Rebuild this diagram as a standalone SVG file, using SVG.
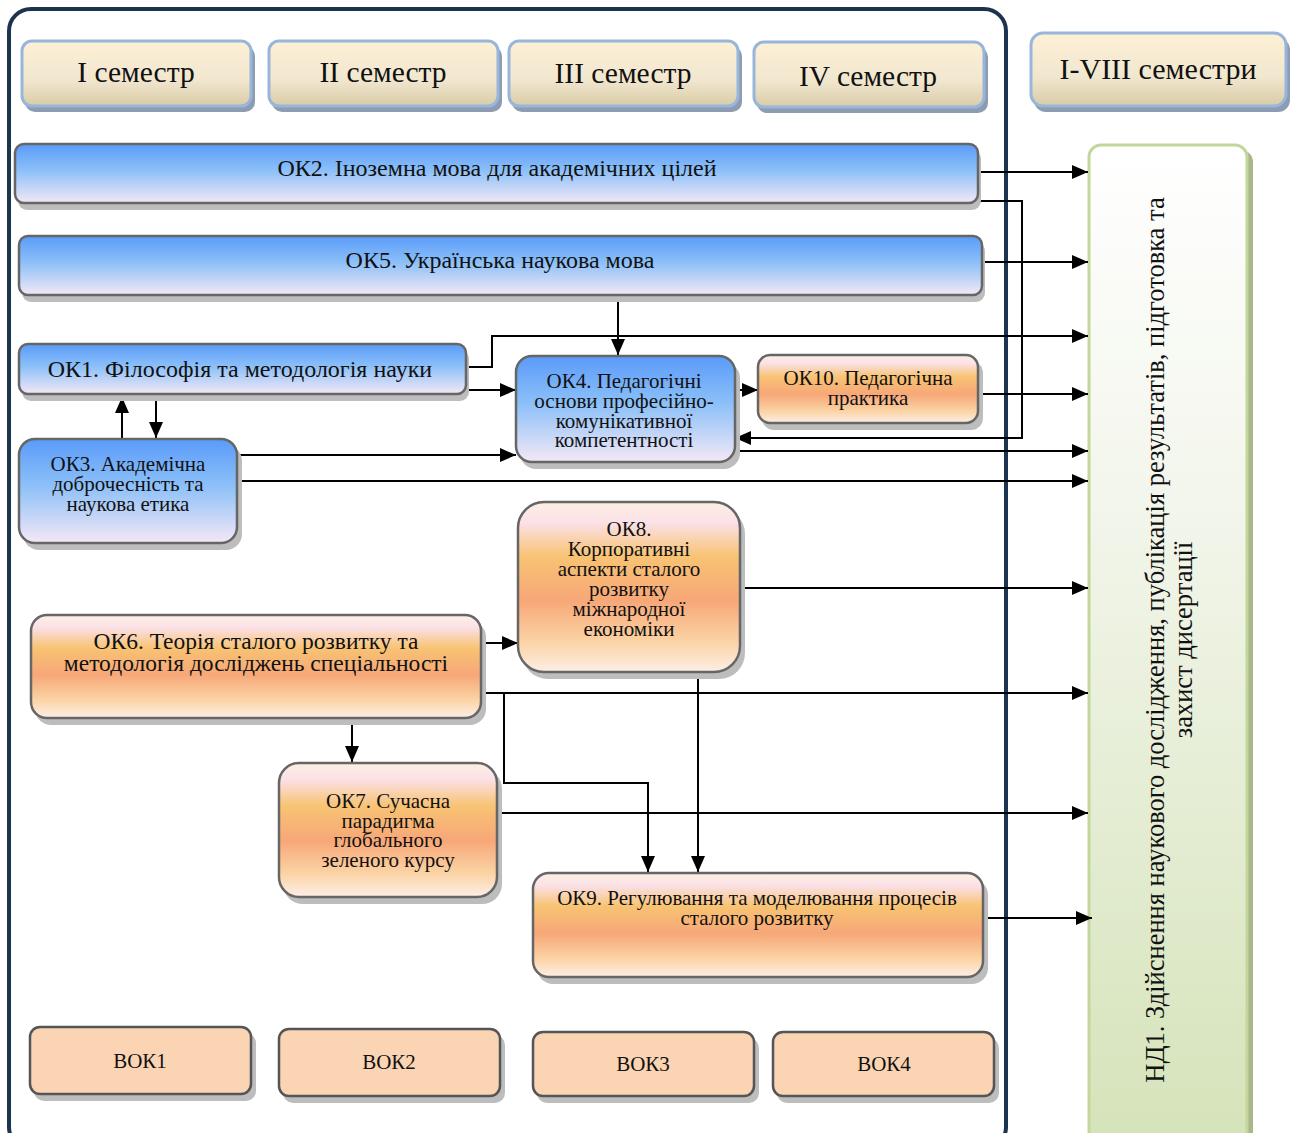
<svg xmlns="http://www.w3.org/2000/svg" width="1290" height="1133" viewBox="0 0 1290 1133">
<defs>
<linearGradient id="gSem" x1="0" y1="0" x2="0" y2="1">
<stop offset="0" stop-color="#fdf0d6"/><stop offset="0.6" stop-color="#f1e7cf"/><stop offset="1" stop-color="#d9cba7"/>
</linearGradient>
<linearGradient id="gBlue" x1="0" y1="0" x2="0" y2="1">
<stop offset="0" stop-color="#5a9bfa"/><stop offset="0.45" stop-color="#8cc0f8"/><stop offset="1" stop-color="#f4e8f6"/>
</linearGradient>
<linearGradient id="gOr" x1="0" y1="0" x2="0" y2="1">
<stop offset="0" stop-color="#fdefe2"/><stop offset="0.12" stop-color="#fbe1e8"/><stop offset="0.32" stop-color="#f8c373"/><stop offset="0.58" stop-color="#f7a778"/><stop offset="0.82" stop-color="#fbd3a4"/><stop offset="1" stop-color="#fdeee6"/>
</linearGradient>
<linearGradient id="gGreen" x1="0" y1="0" x2="0" y2="1">
<stop offset="0" stop-color="#ffffff"/><stop offset="0.35" stop-color="#f3f6ec"/><stop offset="1" stop-color="#d5e3b9"/>
</linearGradient>
<marker id="ar" viewBox="0 0 16 14" markerWidth="16" markerHeight="14" refX="16" refY="7" orient="auto" markerUnits="userSpaceOnUse">
<path d="M0,0 L16,7 L0,14 z" fill="#000"/>
</marker>
<style>
.t{font-family:"Liberation Serif","Times New Roman",serif;fill:#111;text-anchor:middle}
.s{font-size:21px}
.sem{fill:url(#gSem);stroke:#98b5da;stroke-width:3}
.semsh{fill:#8d9cb3}
.blue{fill:url(#gBlue);stroke:#666;stroke-width:2.5}
.or{fill:url(#gOr);stroke:#666;stroke-width:2.5}
.vok{fill:#fbd4b4;stroke:#555;stroke-width:2.5}
.sh{fill:#bdbdbd}
.ca{fill:none;stroke:#000;stroke-width:2;marker-end:url(#ar)}
</style>
</defs>
<rect width="1290" height="1133" fill="#fff"/>
<rect id="frame" x="9" y="9" width="997" height="1140" rx="22" fill="none" stroke="#1d3451" stroke-width="4"/>

<g id="sem1"><rect class="semsh" x="25" y="46" width="230" height="66" rx="10"/><rect class="sem" x="22" y="41" width="229" height="65" rx="10"/><text class="t" x="136" y="82" font-size="29.5">I семестр</text></g>
<g id="sem2"><rect class="semsh" x="272" y="46" width="230" height="66" rx="10"/><rect class="sem" x="269" y="41" width="229" height="65" rx="10"/><text class="t" x="383" y="82" font-size="29.5">II семестр</text></g>
<g id="sem3"><rect class="semsh" x="512" y="46" width="230" height="66" rx="10"/><rect class="sem" x="509" y="41" width="229" height="65" rx="10"/><text class="t" x="623" y="83" font-size="29.5">III семестр</text></g>
<g id="sem4"><rect class="semsh" x="757" y="47" width="231" height="66" rx="10"/><rect class="sem" x="754" y="42" width="230" height="65" rx="10"/><text class="t" x="868" y="86" font-size="29.5">IV семестр</text></g>
<g id="sem18"><rect class="semsh" x="1034" y="38" width="256" height="74" rx="12"/><rect class="sem" x="1031" y="33" width="255" height="73" rx="12"/><text class="t" x="1158" y="79" font-size="30">I-VIII семестри</text></g>

<g id="nd1"><rect x="1093" y="150" width="160" height="1000" rx="12" fill="#a8b88a"/><rect x="1089" y="145" width="158" height="1000" rx="12" fill="url(#gGreen)" stroke="#c3d69b" stroke-width="3"/>
<g transform="translate(1164,640) rotate(-90)"><text class="t" x="0" y="0" font-size="26.5">НД1. Здійснення наукового дослідження, публікація результатів, підготовка та</text><text class="t" x="0" y="28" font-size="26.5">захист дисертації</text></g></g>

<g id="connectors">
<path class="ca" d="M978,172 H1088"/>
<path class="ca" d="M978,201 H1022 V438 H735"/>
<path class="ca" d="M982,262 H1088"/>
<path class="ca" d="M618,296 V355"/>
<path class="ca" d="M466,367 H492 V336 H1088"/>
<path class="ca" d="M466,390 H516"/>
<path class="ca" d="M735,390 H758"/>
<path class="ca" d="M978,394 H1088"/>
<path class="ca" d="M735,451 H1088"/>
<path class="ca" d="M237,455 H516"/>
<path class="ca" d="M237,481 H1088"/>
<path class="ca" d="M122,438 V397"/>
<path class="ca" d="M156,397 V438"/>
<path class="ca" d="M481,643 H518"/>
<path class="ca" d="M740,588 H1088"/>
<path class="ca" d="M481,693 H1088"/>
<path class="ca" d="M504,693 V783 H648 V872"/>
<path class="ca" d="M698,673 V872"/>
<path class="ca" d="M352,722 V762"/>
<path class="ca" d="M497,813 H1088"/>
<path class="ca" d="M983,918 H1092"/>
</g>

<g id="ok2"><rect class="sh" x="18" y="150" width="963" height="60" rx="9"/><rect class="blue" x="15" y="144" width="963" height="59" rx="9"/><text class="t" x="497" y="176" font-size="24">ОК2. Іноземна мова для академічних цілей</text></g>
<g id="ok5"><rect class="sh" x="22" y="242" width="963" height="60" rx="9"/><rect class="blue" x="19" y="236" width="963" height="59" rx="9"/><text class="t" x="500" y="268" font-size="24">ОК5. Українська наукова мова</text></g>
<g id="ok1"><rect class="sh" x="22" y="350" width="447" height="51" rx="9"/><rect class="blue" x="19" y="344" width="447" height="50" rx="9"/><text class="t" x="240" y="377" font-size="24">ОК1. Філософія та методологія науки</text></g>
<g id="ok4"><rect class="sh" x="520" y="362" width="220" height="107" rx="16"/><rect class="blue" x="516" y="356" width="219" height="106" rx="16"/>
<text class="t s"><tspan x="624" y="388">ОК4. Педагогічні</tspan><tspan x="624" y="408">основи професійно-</tspan><tspan x="624" y="428">комунікативної</tspan><tspan x="624" y="447">компетентності</tspan></text></g>
<g id="ok10"><rect class="sh" x="762" y="361" width="221" height="69" rx="12"/><rect class="or" x="758" y="355" width="220" height="68" rx="12"/>
<text class="t s"><tspan x="868" y="385">ОК10. Педагогічна</tspan><tspan x="868" y="405">практика</tspan></text></g>
<g id="ok3"><rect class="sh" x="23" y="445" width="219" height="105" rx="16"/><rect class="blue" x="19" y="439" width="218" height="104" rx="16"/>
<text class="t s"><tspan x="128" y="471">ОК3. Академічна</tspan><tspan x="128" y="491">доброчесність та</tspan><tspan x="128" y="511">наукова етика</tspan></text></g>
<g id="ok8"><rect class="sh" x="522" y="508" width="223" height="171" rx="26"/><rect class="or" x="518" y="502" width="222" height="170" rx="26"/>
<text class="t s"><tspan x="629" y="536">ОК8.</tspan><tspan x="629" y="556">Корпоративні</tspan><tspan x="629" y="576">аспекти сталого</tspan><tspan x="629" y="596">розвитку</tspan><tspan x="629" y="616">міжнародної</tspan><tspan x="629" y="636">економіки</tspan></text></g>
<g id="ok6"><rect class="sh" x="35" y="621" width="451" height="104" rx="16"/><rect class="or" x="31" y="615" width="450" height="103" rx="16"/>
<text class="t" font-size="23.5"><tspan x="256" y="649">ОК6. Теорія сталого розвитку та</tspan><tspan x="256" y="671">методологія досліджень спеціальності</tspan></text></g>
<g id="ok7"><rect class="sh" x="283" y="769" width="219" height="135" rx="20"/><rect class="or" x="279" y="763" width="218" height="134" rx="20"/>
<text class="t s"><tspan x="388" y="808">ОК7. Сучасна</tspan><tspan x="388" y="828">парадигма</tspan><tspan x="388" y="847">глобального</tspan><tspan x="388" y="867">зеленого курсу</tspan></text></g>
<g id="ok9"><rect class="sh" x="537" y="879" width="451" height="105" rx="16"/><rect class="or" x="533" y="873" width="450" height="104" rx="16"/>
<text class="t s"><tspan x="757" y="905">ОК9. Регулювання та моделювання процесів</tspan><tspan x="757" y="925">сталого розвитку</tspan></text></g>

<g id="vok1"><rect class="sh" x="34" y="1033" width="222" height="68" rx="10"/><rect class="vok" x="30" y="1027" width="221" height="67" rx="10"/><text class="t s" x="140" y="1068">ВОК1</text></g>
<g id="vok2"><rect class="sh" x="283" y="1035" width="222" height="68" rx="10"/><rect class="vok" x="279" y="1029" width="221" height="67" rx="10"/><text class="t s" x="389" y="1069">ВОК2</text></g>
<g id="vok3"><rect class="sh" x="537" y="1038" width="222" height="65" rx="10"/><rect class="vok" x="533" y="1032" width="221" height="64" rx="10"/><text class="t s" x="643" y="1071">ВОК3</text></g>
<g id="vok4"><rect class="sh" x="777" y="1038" width="222" height="65" rx="10"/><rect class="vok" x="773" y="1032" width="221" height="64" rx="10"/><text class="t s" x="884" y="1071">ВОК4</text></g>
</svg>
